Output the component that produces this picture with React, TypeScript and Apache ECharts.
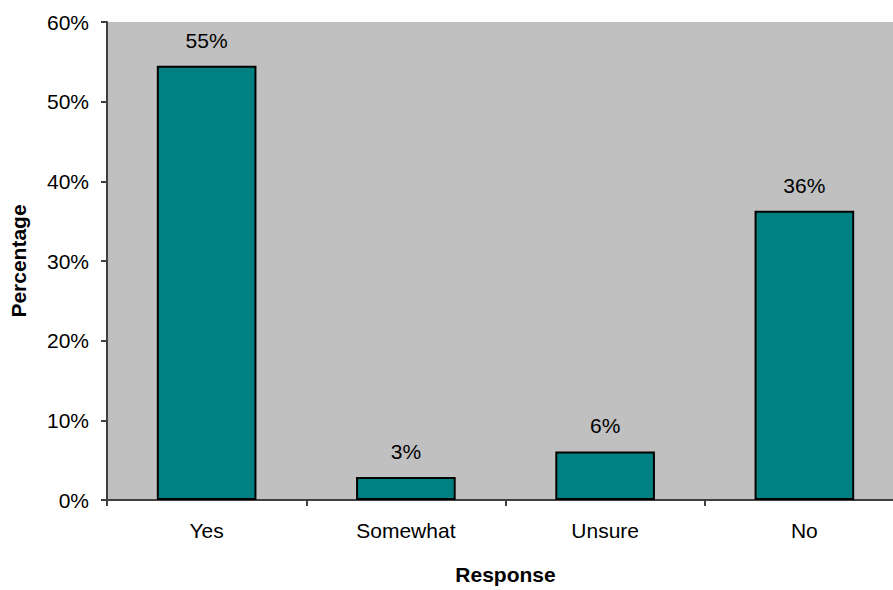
import React, { useEffect, useRef } from "react";
import * as echarts from "echarts";

const categories = ["Yes", "Somewhat", "Unsure", "No"];
const percentages = [54.5, 2.9, 6.1, 36.3];
const yTicks = [0, 10, 20, 30, 40, 50, 60];

const FONT = "'Liberation Sans', Arial, sans-serif";

export default function App() {
  const ref = useRef<HTMLDivElement>(null);

  useEffect(() => {
    if (!ref.current) return;
    const chart = echarts.init(ref.current, undefined, { renderer: "svg" });
    chart.setOption({
      animation: false,
      backgroundColor: "#ffffff",
      textStyle: { fontFamily: FONT },
      grid: {
        left: 104,
        right: 0,
        top: 22,
        bottom: 86,
        show: true,
        backgroundColor: "#c0c0c0",
        borderWidth: 0,
      },
      xAxis: {
        type: "category",
        data: categories,
        name: "Response",
        nameLocation: "middle",
        nameGap: 64,
        nameTextStyle: {
          fontFamily: FONT,
          fontWeight: "bold",
          fontSize: 21,
          color: "#000",
        },
        axisLine: { show: true, lineStyle: { color: "#404040", width: 2 } },
        axisTick: { show: true, length: 6, lineStyle: { color: "#404040", width: 2 } },
        axisLabel: { fontFamily: FONT, fontSize: 21, color: "#000", margin: 20 },
      },
      yAxis: {
        type: "value",
        min: yTicks[0],
        max: yTicks[yTicks.length - 1],
        interval: 10,
        name: "Percentage",
        nameLocation: "middle",
        nameGap: 78,
        nameTextStyle: {
          fontFamily: FONT,
          fontWeight: "bold",
          fontSize: 21,
          color: "#000",
        },
        axisLine: { show: true, lineStyle: { color: "#404040", width: 2 } },
        axisTick: { show: true, length: 6, lineStyle: { color: "#404040", width: 2 } },
        splitLine: { show: false },
        axisLabel: {
          fontFamily: FONT,
          fontSize: 21,
          color: "#000",
          margin: 18,
          formatter: (v: number) => `${v}%`,
        },
      },
      series: [
        {
          type: "bar",
          data: percentages,
          barWidth: "50%",
          itemStyle: { color: "#008080", borderColor: "#000", borderWidth: 2 },
          label: {
            show: true,
            position: "top",
            distance: 15,
            fontFamily: FONT,
            fontSize: 21,
            color: "#000",
            formatter: (p: any) => `${Math.round(p.value)}%`,
          },
        },
      ],
    });
    return () => chart.dispose();
  }, []);

  return (
    <div
      style={{
        position: "fixed",
        left: 0,
        top: 0,
        width: 893,
        height: 590,
        overflow: "hidden",
      }}
    >
      <div ref={ref} style={{ width: 904, height: 590 }} />
    </div>
  );
}
